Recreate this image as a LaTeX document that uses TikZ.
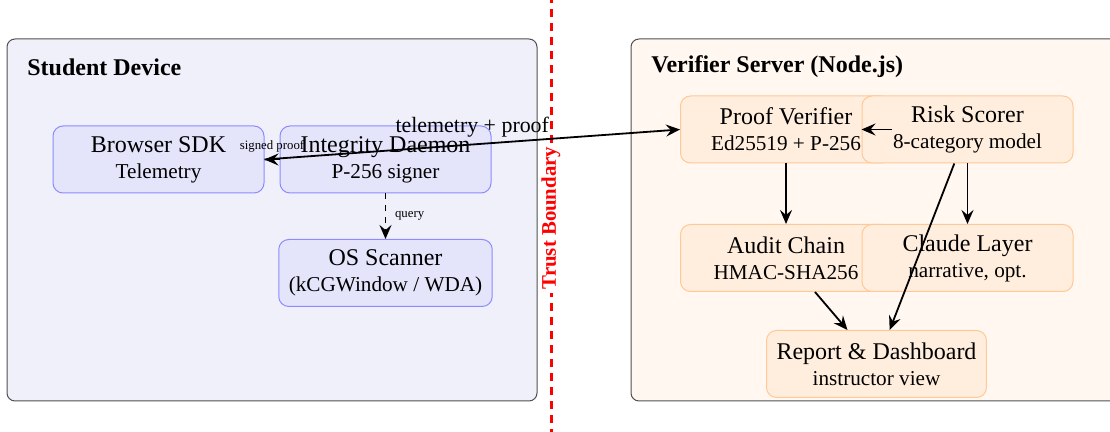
\documentclass[tikz,border=0pt]{standalone}
\usepackage{fontspec}
\setmainfont{Liberation Serif}
\usetikzlibrary{arrows.meta}
\definecolor{sdbg}{RGB}{240,240,251}
\definecolor{sdfill}{RGB}{228,228,251}
\definecolor{sdline}{RGB}{140,140,255}
\definecolor{vsbg}{RGB}{255,247,240}
\definecolor{vsfill}{RGB}{255,238,222}
\definecolor{vsline}{RGB}{255,200,150}
\definecolor{boxline}{RGB}{80,80,80}
\pgfdeclarelayer{bg}
\pgfsetlayers{bg,main}
\tikzset{
  container/.style={draw=boxline, line width=0.5pt, rounded corners=4pt},
  comp/.style={rounded corners=5pt, line width=0.5pt, minimum width=105.5pt, minimum height=33.5pt,
    inner xsep=5pt, inner ysep=0pt, align=center},
  sdcomp/.style={comp, draw=sdline, fill=sdfill},
  vscomp/.style={comp, draw=vsline, fill=vsfill},
  title/.style={font=\fontsize{12}{14}\selectfont\bfseries, anchor=west, inner sep=0pt},
  conn/.style={line width=0.9pt, -{Stealth[length=7pt,width=6pt,inset=2.5pt]}},
  elabel/.style={font=\fontsize{10.95}{13}\selectfont},
  smalllabel/.style={font=\fontsize{6.4}{8}\selectfont},
}
\newcommand{\twoline}[2]{{\fontsize{12}{14}\selectfont #1}\\[1pt]{\fontsize{10.6}{13}\selectfont #2}}
\begin{document}
\begin{tikzpicture}[x=0.5pt,y=-0.5pt]
\useasboundingbox (0,0) rectangle (1110,432);
\begin{pgfonlayer}{bg}
  \draw[container, fill=sdbg] (7,39) rectangle (537,401);
  \draw[container, fill=vsbg] (631,39) rectangle (1140,401);
\end{pgfonlayer}
\node[title] (sdtitle) at (27,67) {Student Device};
\node[title] (vstitle) at (651,67) {Verifier Server (Node.js)};
% trust boundary
\coordinate (tbtop) at (551,-5);
\coordinate (tbbot) at (551,440);
\draw[red, line width=1.5pt, dash pattern=on 4pt off 3pt] (tbtop) -- (tbbot);
\node[fill=white, text=red, rotate=90, inner xsep=2pt, inner ysep=1pt,
  font=\fontsize{10.4}{12}\selectfont\bfseries] (tb) at (551,218) {Trust Boundary};
% student device
\node[sdcomp] (sdk) at (158.5,159.5) {\twoline{Browser SDK}{Telemetry}};
\node[sdcomp] (daemon) at (385.5,159.5) {\twoline{Integrity Daemon}{P-256 signer}};
\node[sdcomp] (os) at (385.5,273) {\twoline{OS Scanner}{(kCGWindow / WDA)}};
\draw[conn] (daemon) -- node[smalllabel, above] {signed proof} (sdk);
\draw[conn, dashed] (daemon) -- node[smalllabel, right, xshift=1pt] {query} (os);
% verifier server
\node[vscomp] (pv) at (786,129.5) {\twoline{Proof Verifier}{Ed25519 + P-256}};
\node[vscomp] (rs) at (967.5,129.5) {\twoline{Risk Scorer}{8-category model}};
\draw[conn] (pv) -- (rs);
\node[vscomp] (ac) at (786,258) {\twoline{Audit Chain}{HMAC-SHA256}};
\node[vscomp] (cl) at (967.5,258) {\twoline{Claude Layer}{narrative, opt.}};
\node[vscomp] (rep) at (876.5,364) {\twoline{Report \& Dashboard}{instructor view}};
\draw[conn] (pv) -- (ac);
\draw[conn] (rs) -- (cl);
\draw[conn] (rs) -- (rep);
\draw[conn] (ac) -- (rep);
% cross-boundary
\draw[conn] (sdk.east) -- node[elabel, above] {telemetry + proof} (pv.west);
\end{tikzpicture}
\end{document}
